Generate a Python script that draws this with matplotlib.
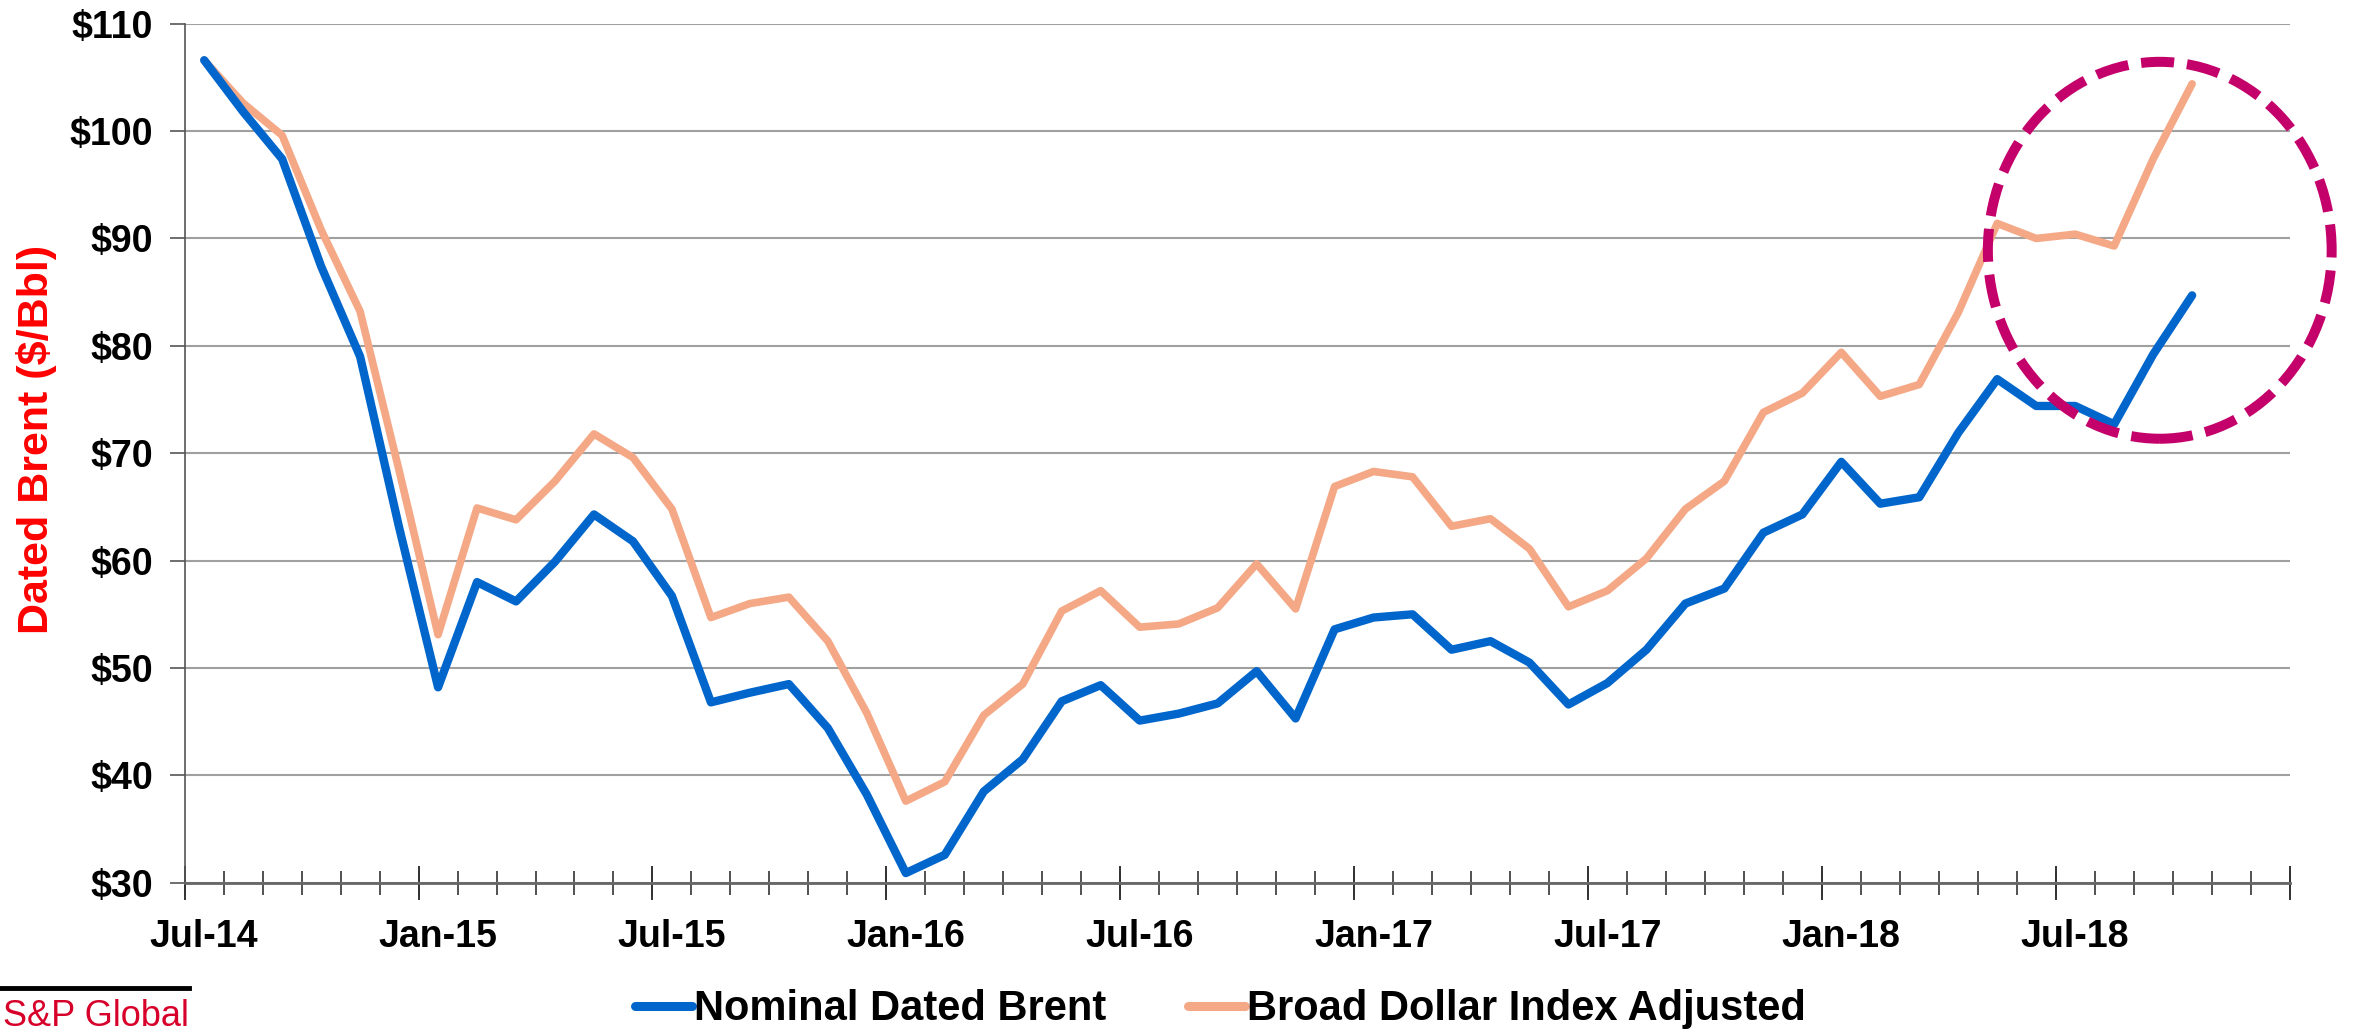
import matplotlib
matplotlib.use("Agg")
import matplotlib.pyplot as plt
from matplotlib.patches import Ellipse
import numpy as np
import pandas as pd

plt.rcParams['font.family'] = ['Liberation Sans', 'DejaVu Sans']

# monthly category axis, Jul-14 .. Dec-18
months = pd.date_range("2014-07-01", periods=54, freq="MS")
month_labels = [m.strftime("%b-%y") for m in months]

# Jul-14 .. Oct-18
nominal_brent = [
    106.6, 101.8, 97.4, 87.4, 79.0, 63.1,
    48.2, 58.0, 56.2, 59.9, 64.3, 61.8,
    56.7, 46.8, 47.7, 48.5, 44.4, 38.2,
    30.9, 32.6, 38.5, 41.5, 46.9, 48.4,
    45.1, 45.75, 46.7, 49.7, 45.3, 53.6,
    54.7, 55.0, 51.7, 52.5, 50.5, 46.6,
    48.6, 51.7, 56.0, 57.4, 62.6, 64.3,
    69.2, 65.3, 65.9, 71.9, 76.9, 74.4,
    74.4, 72.7, 79.2, 84.7,
]
dollar_adjusted = [
    106.6, 102.6, 99.6, 90.8, 83.2, 68.4,
    53.1, 64.9, 63.8, 67.4, 71.8, 69.6,
    64.8, 54.7, 56.0, 56.6, 52.5, 45.8,
    37.6, 39.4, 45.6, 48.5, 55.3, 57.2,
    53.8, 54.1, 55.6, 59.7, 55.5, 66.9,
    68.3, 67.8, 63.2, 63.9, 61.1, 55.7,
    57.2, 60.2, 64.8, 67.4, 73.8, 75.6,
    79.4, 75.3, 76.4, 83.1, 91.4, 90.0,
    90.4, 89.3, 97.4, 104.4,
]
y_ticks = [30, 40, 50, 60, 70, 80, 90, 100, 110]

blue = "#0066CC"
peach = "#F4A886"
magenta = "#C4006A"
grid_grey = "#A0A0A0"

fig = plt.figure(figsize=(23.56, 10.31), dpi=100)
ax = fig.add_axes([0.0784, 0.1438, 0.8934, 0.8332])

x = np.arange(len(nominal_brent))
ax.plot(x, nominal_brent, color=blue, lw=6, solid_joinstyle="round",
        solid_capstyle="round", label="Nominal Dated Brent", zorder=3)
ax.plot(x, dollar_adjusted, color=peach, lw=5.5, solid_joinstyle="round",
        solid_capstyle="round", label="Broad Dollar Index Adjusted", zorder=2)

# highlight the latest rally
ring = Ellipse((50.17, 88.9), width=8.82, height=35.1, fill=False,
               edgecolor=magenta, lw=7.2, linestyle=(0, (3.3, 1.3)),
               clip_on=False, zorder=5)
ax.add_patch(ring)

ax.set_xlim(-0.5, len(months) - 0.5)
ax.set_ylim(30, 110)

# y axis
ax.set_yticks(y_ticks)
ax.set_yticklabels([f"${v}" for v in y_ticks])
ax.tick_params(axis="y", length=11, width=1.2, color="#555555", pad=12,
               labelsize=27)
ax.yaxis.grid(True, color=grid_grey, lw=1.5)
ax.set_axisbelow(True)

# x axis: labels every 6 months, tick marks on month boundaries
label_pos = np.arange(0, len(months), 6)
ax.set_xticks(label_pos)
ax.set_xticklabels([month_labels[i] for i in label_pos])
ax.tick_params(axis="x", length=0, pad=26, labelsize=27)
ax.set_xticks(np.arange(-0.5, len(months)), minor=True)
ax.tick_params(axis="x", which="minor", direction="inout", length=17,
               width=1.2, color="#333333")
sec = ax.secondary_xaxis("bottom")
sec.set_xticks(np.arange(-0.5, len(months), 6), labels=[])
sec.tick_params(direction="inout", length=24, width=1.4, color="#333333")
sec.spines["bottom"].set_visible(False)

for lbl in ax.get_xticklabels() + ax.get_yticklabels():
    lbl.set_fontweight("bold")

for side in ("top", "right"):
    ax.spines[side].set_visible(False)
ax.spines["left"].set_color("#555555")
ax.spines["left"].set_linewidth(1.2)
ax.spines["bottom"].set_color("#666666")
ax.spines["bottom"].set_linewidth(2)

fig.text(0.0157, 0.574, "Dated Brent ($/Bbl)", rotation=90, color="#FF0000",
         fontsize=31, fontweight="bold", ha="center", va="center")

leg = fig.legend(loc="center", bbox_to_anchor=(0.518, 0.021), ncol=2,
                 frameon=False, handlelength=1.38, handletextpad=0.05,
                 columnspacing=1.95, borderpad=0,
                 prop={"weight": "bold", "size": 30})
for line in leg.get_lines():
    line.set_linewidth(6.5)
    line.set_solid_capstyle("round")

# footer logo
fig.add_artist(plt.Line2D([0, 0.0802], [0.0417, 0.0417], color="black", lw=3.5))
fig.text(0.0802, 0.0049, "S&P Global", color="#D6002A", fontsize=26,
         ha="right", va="baseline")

fig.savefig("out.png", dpi=100)
